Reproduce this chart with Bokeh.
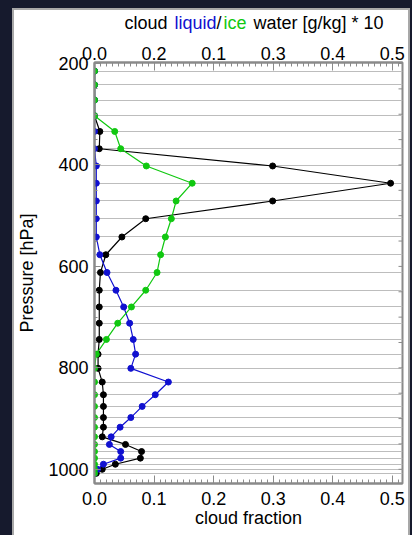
from bokeh.plotting import figure
from bokeh.models import Range1d, LinearAxis, FixedTicker
from bokeh.layouts import column
from bokeh.embed import file_html
from bokeh.resources import INLINE
from bokeh.core.properties import value

# ---- data ----
pressure = [215, 242, 272, 303, 334, 368, 402, 436, 471, 506, 542, 577, 612, 647,
            680, 712, 744, 773, 801, 828, 853, 876, 898, 917, 936, 951, 965, 978,
            990, 1000, 1008]
cloud_fraction = [0.0, 0.0, 0.0, 0.0, 0.009, 0.008, 0.299, 0.497, 0.299, 0.086, 0.046,
                  0.019, 0.010, 0.008, 0.008, 0.008, 0.008, 0.006, 0.006, 0.013, 0.015,
                  0.015, 0.015, 0.015, 0.013, 0.052, 0.079, 0.077, 0.035, 0.013, 0.003]
liquid_water = [0.0, 0.0, 0.0, 0.0, 0.0, 0.0, 0.003, 0.003, 0.003, 0.003, 0.003,
                0.009, 0.021, 0.036, 0.049, 0.059, 0.065, 0.069, 0.061, 0.124, 0.102,
                0.080, 0.061, 0.043, 0.028, 0.025, 0.044, 0.044, 0.015, 0.005, 0.0]
ice_water = [0.0, 0.0, 0.0, 0.0, 0.034, 0.044, 0.087, 0.164, 0.137, 0.129, 0.119,
             0.111, 0.105, 0.086, 0.062, 0.039, 0.020, 0.003, 0.0, 0.0, 0.0, 0.0,
             0.0, 0.0, 0.0, 0.0, 0.0, 0.0, 0.0, 0.0, 0.0]

x_tick_values = [0.0, 0.1, 0.2, 0.3, 0.4, 0.5]
bottom_tick_labels = ["0.0", "0.1", "0.2", "0.3", "0.4", "0.5"]
top_tick_labels = ["0.0", "0.2", "0.1", "0.3", "0.4", "0.5"]
pressure_ticks = [200, 400, 600, 800, 1000]
pressure_minor = list(range(200, 1051, 50))
right_ticks = list(range(200, 1001, 50))
x_minor = [i / 100 for i in range(0, 52)]

title_parts = ["cloud", "liquid", "/", "ice", "water [g/kg] * 10"]
title_colors = ["black", "#1010d0", "black", "#10c810", "black"]
title_x = [30, 80, 122, 129, 159]   # px from the plot frame's left edge

X_MAX = 0.517
FONT = "Liberation Sans"
FS = "18px"
AXIS_COLOR = "#8a8a8a"
PANEL_BORDER = "#a8a8a8"
PAGE_BG = "#161a2d"
BORDER_L, BORDER_R = 80, 6
FRAME_W = 394 - BORDER_L - BORDER_R
TITLE_H = 26

# ---- title strip (frame aligned with the chart frame) ----
t = figure(width=394, height=TITLE_H, x_range=Range1d(0, FRAME_W),
           y_range=Range1d(0, TITLE_H),
           output_backend="svg", toolbar_location=None,
           x_axis_location=None, y_axis_location=None,
           min_border_left=BORDER_L, min_border_right=BORDER_R,
           min_border_top=0, min_border_bottom=0,
           background_fill_color="white", border_fill_color="white")
t.title.visible = False
t.outline_line_color = None
t.xgrid.visible = False
t.ygrid.visible = False
t.text(x=title_x, y=[14] * len(title_x), text=title_parts, text_color=title_colors,
       text_font=value(FONT), text_font_size=value(FS),
       text_baseline="alphabetic", text_align="left")

# ---- main chart ----
p = figure(width=394, height=499,
           x_range=Range1d(0, X_MAX), y_range=Range1d(1028, 198),
           output_backend="svg", toolbar_location=None,
           min_border_left=BORDER_L, min_border_right=BORDER_R,
           min_border_top=26, min_border_bottom=52,
           background_fill_color="white", border_fill_color="white")
p.title.visible = False
p.outline_line_color = AXIS_COLOR
p.outline_line_width = 2
p.xgrid.visible = False
p.ygrid.visible = False


def style(ax):
    ax.axis_line_color = AXIS_COLOR
    ax.axis_line_width = 2
    ax.major_tick_line_color = AXIS_COLOR
    ax.minor_tick_line_color = AXIS_COLOR
    ax.major_tick_out = 0
    ax.minor_tick_out = 0
    ax.major_tick_in = 8
    ax.minor_tick_in = 4
    ax.major_label_text_font = FONT
    ax.major_label_text_font_size = FS
    ax.major_label_text_color = "black"
    ax.axis_label_text_font = FONT
    ax.axis_label_text_font_size = FS
    ax.axis_label_text_font_style = "normal"
    ax.axis_label_text_color = "black"


# bottom axis
xb = p.xaxis[0]
xb.ticker = FixedTicker(ticks=x_tick_values, minor_ticks=x_minor)
xb.major_label_overrides = dict(zip(x_tick_values, bottom_tick_labels))
style(xb)
xb.axis_label = "cloud fraction"
xb.major_label_standoff = 8
xb.axis_label_standoff = 0

# left axis
yl = p.yaxis[0]
yl.ticker = FixedTicker(ticks=pressure_ticks, minor_ticks=pressure_minor)
style(yl)
yl.major_tick_in = 6
yl.minor_tick_in = 3
yl.axis_label = "Pressure [hPa]"
yl.major_label_standoff = 6
yl.axis_label_standoff = 8

# top axis
xt = LinearAxis(ticker=FixedTicker(ticks=x_tick_values, minor_ticks=x_minor))
xt.major_label_overrides = dict(zip(x_tick_values, top_tick_labels))
style(xt)
xt.major_label_standoff = 3
p.add_layout(xt, "above")

# horizontal level lines
p.hspan(y=pressure, line_color="#bdbdbd", line_width=1)

# inward ticks on the right frame edge (dash markers clipped at the frame)
p.scatter(x=[X_MAX] * len(right_ticks), y=right_ticks, marker="dash",
          size=8, line_color=AXIS_COLOR, line_width=1)

# series
for xs, col in [(cloud_fraction, "black"), (liquid_water, "#1010d0"), (ice_water, "#10c810")]:
    p.line(x=xs, y=pressure, line_color=col, line_width=1.2)
    p.scatter(x=xs, y=pressure, size=6, fill_color=col, line_color=col)

inner = column(t, p, width=394, height=525, spacing=0,
               styles={"background-color": "white"})
inner.margin = (2, 2, 0, 2)
mid = column(inner, width=398, height=527, styles={"background-color": PANEL_BORDER})
mid.margin = (8, 2, 0, 12)
layout = column(mid, width=412, height=535, styles={"background-color": PAGE_BG})

open("out.html", "w").write(file_html(layout, INLINE))
